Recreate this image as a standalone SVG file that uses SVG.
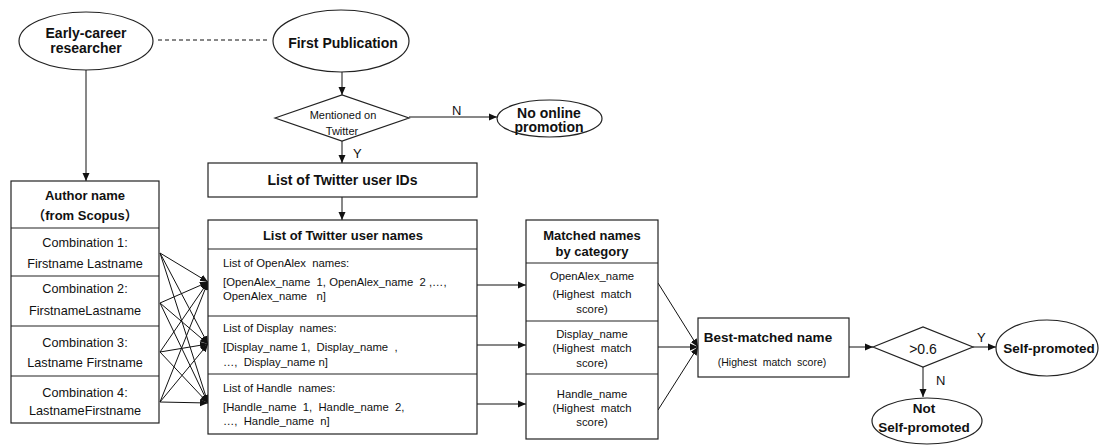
<svg xmlns="http://www.w3.org/2000/svg" width="1099" height="445" viewBox="0 0 1099 445">
<style>
.s{fill:#fff;stroke:#222;stroke-width:1.2}
.l{fill:none;stroke:#111;stroke-width:1}
.t{font-family:"Liberation Sans",Arial,sans-serif;fill:#111}
.b{font-weight:bold}
.c{text-anchor:middle}
</style>
<defs>
<marker id="ah" markerUnits="userSpaceOnUse" markerWidth="9" markerHeight="8" refX="8" refY="4" orient="auto">
<path d="M0,0.5 L8,4 L0,7.5 Z" fill="#111"/>
</marker>
</defs>
<rect width="1099" height="445" fill="#fff"/>
<g id="connectors">
<line class="l" x1="158" y1="40" x2="267" y2="40" stroke-dasharray="4,3"/>
<line class="l" x1="86" y1="70" x2="86" y2="181" marker-end="url(#ah)"/>
<line class="l" x1="342" y1="72" x2="342" y2="95" marker-end="url(#ah)"/>
<line class="l" x1="342" y1="141" x2="342" y2="163" marker-end="url(#ah)"/>
<line class="l" x1="409" y1="117" x2="497" y2="117" marker-end="url(#ah)"/>
<line class="l" x1="342" y1="197" x2="342" y2="220" marker-end="url(#ah)"/>
<g>
<line class="l" x1="160" y1="253" x2="208" y2="282" marker-end="url(#ah)"/>
<line class="l" x1="160" y1="253" x2="208" y2="344" marker-end="url(#ah)"/>
<line class="l" x1="160" y1="253" x2="208" y2="403" marker-end="url(#ah)"/>
<line class="l" x1="160" y1="303" x2="208" y2="282" marker-end="url(#ah)"/>
<line class="l" x1="160" y1="303" x2="208" y2="344" marker-end="url(#ah)"/>
<line class="l" x1="160" y1="303" x2="208" y2="403" marker-end="url(#ah)"/>
<line class="l" x1="160" y1="352" x2="208" y2="282" marker-end="url(#ah)"/>
<line class="l" x1="160" y1="352" x2="208" y2="344" marker-end="url(#ah)"/>
<line class="l" x1="160" y1="352" x2="208" y2="403" marker-end="url(#ah)"/>
<line class="l" x1="160" y1="402" x2="208" y2="282" marker-end="url(#ah)"/>
<line class="l" x1="160" y1="402" x2="208" y2="344" marker-end="url(#ah)"/>
<line class="l" x1="160" y1="402" x2="208" y2="403" marker-end="url(#ah)"/>
</g>
<line class="l" x1="477" y1="285" x2="526" y2="285" marker-end="url(#ah)"/>
<line class="l" x1="477" y1="345" x2="526" y2="345" marker-end="url(#ah)"/>
<line class="l" x1="477" y1="404" x2="526" y2="404" marker-end="url(#ah)"/>
<line class="l" x1="658" y1="283" x2="698" y2="347" marker-end="url(#ah)"/>
<line class="l" x1="658" y1="347" x2="698" y2="347" marker-end="url(#ah)"/>
<line class="l" x1="658" y1="410" x2="698" y2="347" marker-end="url(#ah)"/>
<line class="l" x1="849" y1="347" x2="873" y2="347" marker-end="url(#ah)"/>
<line class="l" x1="973" y1="347" x2="996" y2="347" marker-end="url(#ah)"/>
<line class="l" x1="923" y1="367" x2="923" y2="397" marker-end="url(#ah)"/>
<text class="t" x="353" y="158" font-size="13">Y</text>
<text class="t" x="452" y="115" font-size="13">N</text>
<text class="t" x="977" y="342" font-size="13">Y</text>
<text class="t" x="936" y="385" font-size="13">N</text>
</g>
<g id="early-career">
<ellipse class="s" cx="86" cy="41" rx="67" ry="29"/>
<text class="t b c" x="86" y="38" font-size="14">Early-career</text>
<text class="t b c" x="86" y="53" font-size="14">researcher</text>
</g>
<g id="first-publication">
<ellipse class="s" cx="341" cy="41" rx="68" ry="31"/>
<text class="t b c" x="343" y="48" font-size="14">First Publication</text>
</g>
<g id="mentioned">
<polygon class="s" points="275,118 342,95 409,118 342,141"/>
<text class="t c" x="343" y="119" font-size="11">Mentioned on</text>
<text class="t c" x="342" y="134.5" font-size="11">Twitter</text>
</g>
<g id="no-promotion">
<ellipse class="s" cx="549.5" cy="118.5" rx="52.5" ry="18.5"/>
<text class="t b c" x="549" y="118" font-size="14">No online</text>
<text class="t b c" x="549" y="132" font-size="14">promotion</text>
</g>
<g id="user-ids">
<rect class="s" x="208" y="163" width="269" height="34"/>
<text class="t b c" x="342.5" y="185" font-size="14">List of Twitter user IDs</text>
</g>
<g id="author-name">
<rect class="s" x="11" y="181" width="148" height="242"/>
<line class="s" x1="11" y1="228" x2="159" y2="228"/>
<line class="s" x1="11" y1="276" x2="159" y2="276"/>
<line class="s" x1="11" y1="326" x2="159" y2="326"/>
<line class="s" x1="11" y1="376" x2="159" y2="376"/>
<text class="t b c" x="85" y="200" font-size="13">Author name</text>
<text class="t b c" x="85" y="220" font-size="13" style="font-family:'Liberation Sans','Noto Sans CJK SC',sans-serif">（from Scopus）</text>
<text class="t c" x="85" y="246.5" font-size="12.7">Combination 1:</text>
<text class="t c" x="85" y="267.5" font-size="12.7">Firstname Lastname</text>
<text class="t c" x="85" y="292.5" font-size="12.7">Combination 2:</text>
<text class="t c" x="85" y="314.5" font-size="12.7">FirstnameLastname</text>
<text class="t c" x="85" y="346.5" font-size="12.7">Combination 3:</text>
<text class="t c" x="85" y="366.5" font-size="12.7">Lastname Firstname</text>
<text class="t c" x="85" y="396.5" font-size="12.7">Combination 4:</text>
<text class="t c" x="85" y="414.5" font-size="12.7">LastnameFirstname</text>
</g>
<g id="user-names">
<rect class="s" x="208" y="220" width="269" height="214"/>
<line class="s" x1="208" y1="249" x2="477" y2="249"/>
<line class="s" x1="208" y1="316" x2="477" y2="316"/>
<line class="s" x1="208" y1="374" x2="477" y2="374"/>
<text class="t b c" x="343" y="240" font-size="13">List of Twitter user names</text>
<text class="t" x="223" y="267" font-size="11.3" xml:space="preserve">List of OpenAlex  names:</text>
<text class="t" x="223" y="286" font-size="11.3" xml:space="preserve">[OpenAlex_name  1, OpenAlex_name  2 ,…,</text>
<text class="t" x="223" y="300" font-size="11.3" xml:space="preserve">OpenAlex_name   n]</text>
<text class="t" x="223" y="332" font-size="11.3" xml:space="preserve">List of Display  names:</text>
<text class="t" x="223" y="351" font-size="11.3" xml:space="preserve">[Display_name 1,  Display_name  ,</text>
<text class="t" x="223" y="366" font-size="11.3" xml:space="preserve">…,  Display_name n]</text>
<text class="t" x="223" y="392" font-size="11.3" xml:space="preserve">List of Handle  names:</text>
<text class="t" x="223" y="411" font-size="11.3" xml:space="preserve">[Handle_name  1,  Handle_name  2,</text>
<text class="t" x="223" y="425" font-size="11.3" xml:space="preserve">…,  Handle_name  n]</text>
</g>
<g id="matched">
<rect class="s" x="526" y="220" width="132" height="219"/>
<line class="s" x1="526" y1="263" x2="658" y2="263"/>
<line class="s" x1="526" y1="321" x2="658" y2="321"/>
<line class="s" x1="526" y1="374" x2="658" y2="374"/>
<text class="t b c" x="592" y="239.5" font-size="13">Matched names</text>
<text class="t b c" x="592" y="255.5" font-size="13">by category</text>
<text class="t c" x="592" y="280" font-size="11.3">OpenAlex_name</text>
<text class="t c" x="592" y="298" font-size="11.3" xml:space="preserve">(Highest  match</text>
<text class="t c" x="592" y="313" font-size="11.3">score)</text>
<text class="t c" x="592" y="338" font-size="11.3">Display_name</text>
<text class="t c" x="592" y="352" font-size="11.3" xml:space="preserve">(Highest  match</text>
<text class="t c" x="592" y="367" font-size="11.3">score)</text>
<text class="t c" x="592" y="398" font-size="11.3">Handle_name</text>
<text class="t c" x="592" y="412" font-size="11.3" xml:space="preserve">(Highest  match</text>
<text class="t c" x="592" y="426" font-size="11.3">score)</text>
</g>
<g id="best-matched">
<rect class="s" x="698" y="318" width="151" height="59"/>
<text class="t b c" x="768" y="342" font-size="13.5">Best-matched name</text>
<text class="t c" x="772" y="366" font-size="10.5" xml:space="preserve">(Highest  match  score)</text>
</g>
<g id="threshold">
<polygon class="s" points="873,347 923,327 973,347 923,367"/>
<text class="t c" x="923" y="354" font-size="14">&gt;0.6</text>
</g>
<g id="self-promoted">
<ellipse class="s" cx="1047" cy="348" rx="51" ry="28"/>
<text class="t b c" x="1049" y="353" font-size="13.5">Self-promoted</text>
</g>
<g id="not-self-promoted">
<ellipse class="s" cx="927" cy="421" rx="55" ry="23"/>
<text class="t b c" x="924" y="413" font-size="13.5">Not</text>
<text class="t b c" x="924" y="432" font-size="13.5">Self-promoted</text>
</g>
</svg>
